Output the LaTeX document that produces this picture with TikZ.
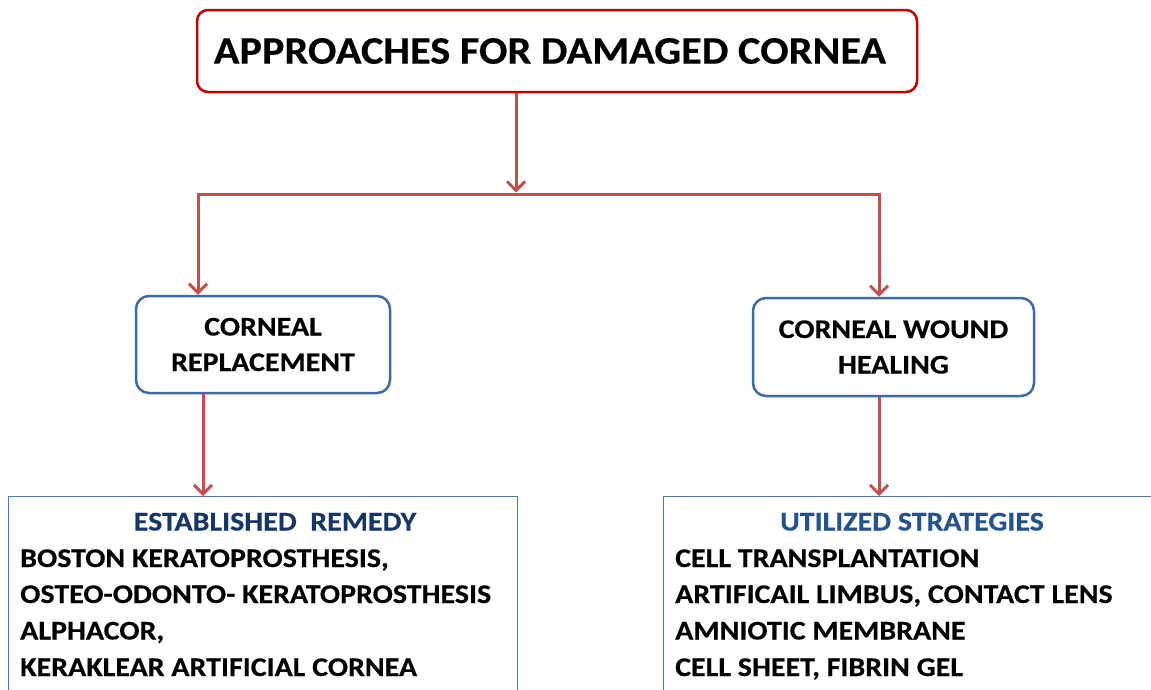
\documentclass[tikz,border=0pt]{standalone}
\usepackage{fontspec}
\setmainfont[FakeStretch=1.11, BoldFeatures={FakeBold=0.35}]{Carlito}
\newfontfamily\titlefont[FakeStretch=1.09, BoldFeatures={FakeBold=0.35}]{Carlito}
\usetikzlibrary{arrows.meta,calc}
\definecolor{titleborder}{RGB}{192,0,0}
\definecolor{flow}{RGB}{192,80,77}
\definecolor{midborder}{RGB}{65,105,155}
\definecolor{listborder}{RGB}{79,120,175}
\definecolor{headnavy}{RGB}{23,54,100}
\definecolor{headblue}{RGB}{38,82,140}
\tikzset{
  arr/.style={draw=flow, line width=3pt,
    -{Straight Barb[length=9pt,width=18pt,line width=3pt]}},
  link/.style={draw=flow, line width=3pt},
  titlebox/.style={draw=titleborder, line width=2.5pt, rounded corners=11pt,
    fill=white, minimum width=720pt, minimum height=82pt, inner sep=0pt,
    font=\titlefont\fontsize{38.8}{44}\selectfont\bfseries},
  midbox/.style={draw=midborder, line width=2.5pt, rounded corners=13pt,
    fill=white, inner sep=0pt, align=center,
    font=\fontsize{27}{35.5}\selectfont\bfseries},
  listbox/.style={draw=listborder, line width=1.2pt, fill=white,
    anchor=north west, inner sep=0pt},
  listhead/.style={anchor=base, inner sep=0pt,
    font=\fontsize{27}{30}\selectfont\bfseries},
  listline/.style={anchor=base west, inner sep=0pt,
    font=\fontsize{27}{30}\selectfont\bfseries}
}
\begin{document}
\begin{tikzpicture}[x=1pt,y=-1pt]
  \clip (0,0) rectangle (1151,689);
  \useasboundingbox (0,0) rectangle (1151,689);

  % top box
  \node[titlebox] (top) at (557,51) {\hspace*{-14pt}APPROACHES FOR DAMAGED CORNEA};

  % second level
  \node[midbox, minimum width=254pt, minimum height=97pt] (repl) at (263,344.5)
    {CORNEAL\\REPLACEMENT};
  \node[midbox, minimum width=281pt, minimum height=98pt] (wound) at (893.5,347)
    {CORNEAL WOUND\\HEALING};

  % list boxes
  \node[listbox, minimum width=509pt, minimum height=220pt] (remedy) at (8,496) {};
  \node[listbox, minimum width=500pt, minimum height=220pt] (strat) at (663,496) {};

  % left list
  \node[listhead, text=headnavy] (remhead) at (275,530.5) {ESTABLISHED\ \ REMEDY};
  \node[listline] (rem1) at (20,567) {BOSTON KERATOPROSTHESIS,};
  \node[listline] (rem2) at (20,603) {OSTEO-ODONTO- KERATOPROSTHESIS};
  \node[listline] (rem3) at (20,639.5) {ALPHACOR,};
  \node[listline] (rem4) at (20,676) {KERAKLEAR ARTIFICIAL CORNEA};

  % right list
  \node[listhead, text=headblue] (strhead) at (912,530.5) {UTILIZED STRATEGIES};
  \node[listline] (str1) at (675,567) {CELL TRANSPLANTATION};
  \node[listline] (str2) at (675,603) {ARTIFICAIL LIMBUS, CONTACT LENS};
  \node[listline] (str3) at (675,639.5) {AMNIOTIC MEMBRANE};
  \node[listline] (str4) at (675,676) {CELL SHEET, FIBRIN GEL};

  % connectors
  \coordinate (split) at (516,194);
  \coordinate (lx) at (198,0);
  \coordinate (rx) at (879,0);
  \coordinate (lx2) at (203,0);
  \draw[arr] (top.south -| split) -- ($(split)+(0,-1.5)$);
  \draw[link] (split -| lx) -- (split -| rx);
  \draw[arr] ($(split -| lx)+(0,-1.5)$) -- (repl.north -| lx);
  \draw[arr] ($(split -| rx)+(0,-1.5)$) -- (wound.north -| rx);
  \draw[arr] (repl.south -| lx2) -- (remedy.north -| lx2);
  \draw[arr] (wound.south -| rx) -- (strat.north -| rx);
\end{tikzpicture}
\end{document}
